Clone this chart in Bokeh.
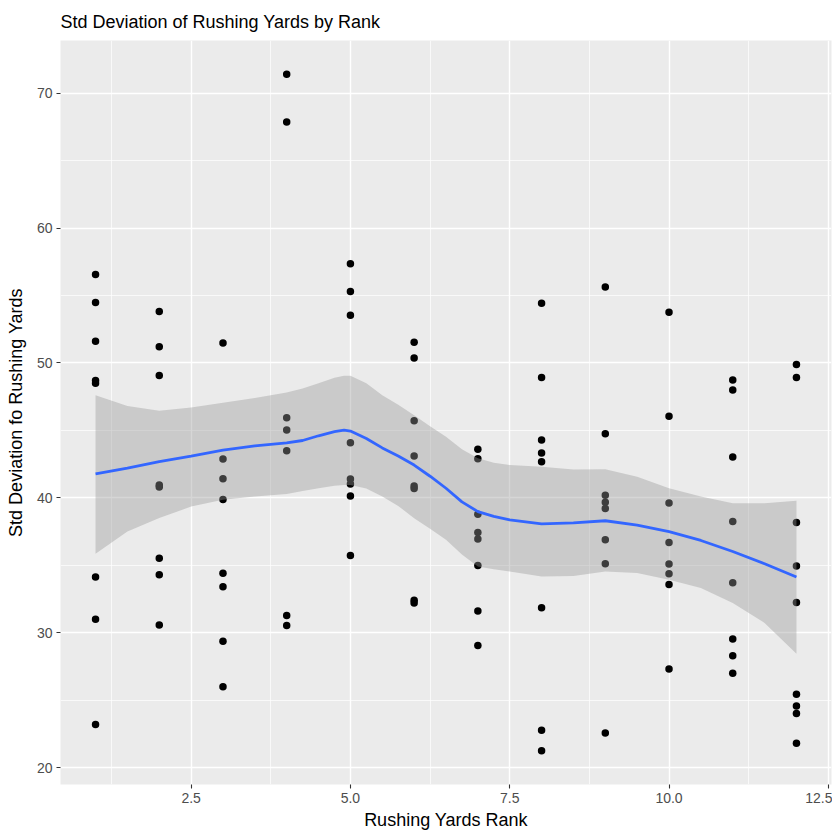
from bokeh.plotting import figure
from bokeh.models import FixedTicker, NumeralTickFormatter, Range1d
from bokeh.embed import file_html
from bokeh.resources import INLINE

# ---- data ----
rank = ([1] * 8 + [2] * 8 + [3] * 8 + [4] * 7 + [5] * 8 + [6] * 8 +
        [7] * 8 + [8] * 8 + [9] * 8 + [10] * 8 + [11] * 8 + [12] * 9)
std_dev = [
    56.56, 54.47, 51.6, 48.7, 48.5, 34.13, 31.0, 23.2,          # 1
    53.82, 51.2, 49.07, 40.95, 40.8, 35.53, 34.3, 30.58,        # 2
    51.48, 42.88, 41.42, 39.87, 34.4, 33.41, 29.36, 26.0,       # 3
    71.4, 67.85, 45.93, 45.02, 43.49, 31.27, 30.53,             # 4
    57.35, 55.3, 53.53, 44.08, 41.4, 41.03, 40.14, 35.73,       # 5
    51.53, 50.37, 45.71, 43.1, 40.88, 40.7, 32.4, 32.2,         # 6
    43.6, 42.9, 38.79, 37.43, 36.94, 34.99, 31.61, 29.05,       # 7
    54.42, 48.92, 44.28, 43.32, 42.68, 31.86, 22.78, 21.26,     # 8
    55.62, 44.75, 40.19, 39.67, 39.2, 36.89, 35.11, 22.56,      # 9
    53.75, 46.04, 39.62, 36.69, 35.09, 34.37, 33.58, 27.32,     # 10
    48.74, 48.0, 43.03, 38.24, 33.7, 29.54, 28.3, 27.0,         # 11
    49.88, 48.92, 38.17, 34.94, 32.25, 25.44, 24.56, 24.02, 21.8,  # 12
]

smooth_x = [1, 1.5, 2, 2.5, 3, 3.5, 4, 4.25, 4.5, 4.75, 4.9, 5, 5.25, 5.5,
            5.75, 6, 6.25, 6.5, 6.75, 7, 7.25, 7.5, 8, 8.5, 9, 9.5, 10,
            10.5, 11, 11.5, 12]
smooth_y = [41.77, 42.2, 42.68, 43.1, 43.54, 43.85, 44.08, 44.25, 44.6, 44.9,
            45.02, 44.95, 44.4, 43.7, 43.1, 42.43, 41.6, 40.71, 39.7, 38.98,
            38.62, 38.37, 38.07, 38.15, 38.3, 37.98, 37.5, 36.84, 36.02,
            35.11, 34.13]
ci_upper = [47.6, 46.8, 46.45, 46.7, 47.05, 47.4, 47.8, 48.1, 48.5, 48.9,
            49.05, 49.05, 48.5, 47.6, 46.9, 46.13, 45.3, 44.53, 43.6, 42.93,
            42.6, 42.43, 42.3, 42.1, 42.12, 41.57, 40.71, 40.09, 39.6, 39.6,
            39.79]
ci_lower = [35.85, 37.5, 38.5, 39.35, 39.85, 40.09, 40.29, 40.5, 40.71, 40.9,
            40.95, 40.95, 40.7, 40.09, 39.4, 38.49, 37.7, 36.89, 35.8, 34.91,
            34.7, 34.54, 34.17, 34.2, 34.54, 34.42, 33.93, 33.31, 32.2,
            30.73, 28.45]

x_ticks = [2.5, 5.0, 7.5, 10.0, 12.5]
x_minor = [1.25, 3.75, 6.25, 8.75, 11.25]
y_ticks = [20, 30, 40, 50, 60, 70]
y_minor = [25, 35, 45, 55, 65]

FONT = "Liberation Sans"

p = figure(output_backend="svg", toolbar_location=None,
           frame_width=771, frame_height=744,
           x_range=Range1d(0.45, 12.55), y_range=Range1d(18.75, 73.9),
           min_border_left=60, min_border_right=1, min_border_top=40,
           min_border_bottom=52,
           title="Std Deviation of Rushing Yards by Rank")

p.background_fill_color = "#ebebeb"
p.border_fill_color = "white"
p.outline_line_color = None

p.title.text_font = FONT
p.title.text_font_size = "18px"
p.title.text_font_style = "normal"
p.title.text_color = "black"
p.title.offset = 0
p.title.standoff = 18

# grids
for g, ticks, minor in ((p.xgrid, x_ticks, x_minor), (p.ygrid, y_ticks, y_minor)):
    g.ticker = FixedTicker(ticks=ticks, minor_ticks=minor)
    g.grid_line_color = "white"
    g.grid_line_width = 1.4
    g.minor_grid_line_color = "white"
    g.minor_grid_line_width = 0.7

p.xaxis.ticker = FixedTicker(ticks=x_ticks, minor_ticks=x_minor)
p.yaxis.ticker = FixedTicker(ticks=y_ticks, minor_ticks=y_minor)
p.xaxis.formatter = NumeralTickFormatter(format="0.0")

for ax in (p.xaxis[0], p.yaxis[0]):
    ax.axis_line_color = None
    ax.major_tick_line_color = "#333333"
    ax.major_tick_line_width = 1.1
    ax.major_tick_out = 4
    ax.major_tick_in = 0
    ax.minor_tick_line_color = None
    ax.major_label_text_font = FONT
    ax.major_label_text_font_size = "14px"
    ax.major_label_text_color = "#4d4d4d"
    ax.major_label_standoff = 4
    ax.axis_label_text_font = FONT
    ax.axis_label_text_font_size = "18px"
    ax.axis_label_text_font_style = "normal"
    ax.axis_label_text_color = "black"

p.xaxis.axis_label = "Rushing Yards Rank"
p.yaxis.axis_label = "Std Deviation fo Rushing Yards"
p.xaxis.axis_label_standoff = 4
p.yaxis.axis_label_standoff = 8

p.scatter(rank, std_dev, size=7.5, color="black", line_color=None)
p.varea(x=smooth_x, y1=ci_lower, y2=ci_upper, fill_color="#999999", fill_alpha=0.4)
p.line(smooth_x, smooth_y, line_color="#3366FF", line_width=2.8)

open("out.html", "w").write(file_html(p, INLINE))
